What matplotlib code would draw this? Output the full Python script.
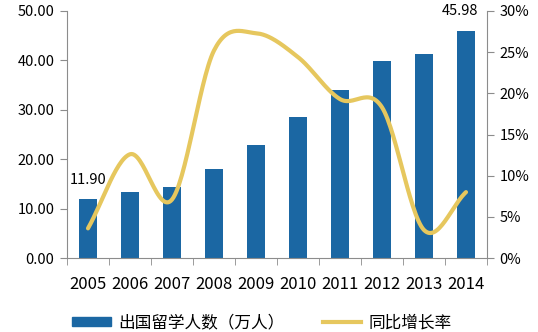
import numpy as np
import matplotlib
matplotlib.use("Agg")
import matplotlib.pyplot as plt
from matplotlib.lines import Line2D
from matplotlib.patches import Patch

plt.rcParams['font.family'] = ['Noto Sans CJK SC', 'DejaVu Sans']

years = ['2005', '2006', '2007', '2008', '2009', '2010', '2011', '2012', '2013', '2014']
students = [11.90, 13.35, 14.4, 17.98, 22.93, 28.47, 33.97, 39.96, 41.39, 45.98]
growth = [3.6, 12.6, 7.1, 25.2, 27.3, 24.4, 19.3, 18.3, 3.4, 8.0]

bar_color = '#1B67A3'
line_color = '#E6C75E'
spine_color = '#8C8C8C'

def smooth(xs, ys, n=30):
    xs = np.asarray(xs, float); ys = np.asarray(ys, float)
    px = np.concatenate([[2*xs[0]-xs[1]], xs, [2*xs[-1]-xs[-2]]])
    py = np.concatenate([[2*ys[0]-ys[1]], ys, [2*ys[-1]-ys[-2]]])
    ox, oy = [], []
    for i in range(1, len(px)-2):
        t = np.linspace(0, 1, n, endpoint=False)
        for P, out in ((px, ox), (py, oy)):
            p0, p1, p2, p3 = P[i-1], P[i], P[i+1], P[i+2]
            out.extend(0.5*((2*p1) + (-p0+p2)*t + (2*p0-5*p1+4*p2-p3)*t**2 + (-p0+3*p1-3*p2+p3)*t**3))
    ox.append(xs[-1]); oy.append(ys[-1])
    return np.array(ox), np.array(oy)

fig = plt.figure(figsize=(5.38, 3.32), dpi=100)
ax = fig.add_axes([67/538, 1-258/332, 420/538, 247/332])
x = np.arange(len(years))
ax.bar(x, students, width=0.42, color=bar_color, zorder=2)
ax.set_xlim(-0.5, len(years)-0.5)
ax.set_ylim(0, 50)
ax.set_yticks(np.arange(0, 51, 10))
ax.set_yticklabels([f'{v:.2f}' for v in np.arange(0, 51, 10)])
ax.set_xticks(x)
ax.set_xticklabels(years)
ax.set_xticks(np.arange(-0.5, len(years)), minor=True)
ax.tick_params(axis='x', which='major', length=0, pad=13, labelsize=12)
ax.tick_params(axis='x', which='minor', length=5, color=spine_color, direction='out')
ax.tick_params(axis='y', length=5, color=spine_color, labelsize=10.5, pad=4)
for s in ['top', 'right']:
    ax.spines[s].set_visible(False)
for s in ['left', 'bottom']:
    ax.spines[s].set_color(spine_color)

ax.text(x[0], 15.8, f'{students[0]:.2f}', ha='center', va='center', fontsize=10.5)
ax.text(x[-1]-0.14, 49.9, f'{students[-1]:.2f}', ha='center', va='center', fontsize=10.5)

ax2 = ax.twinx()
sx, sy = smooth(x, growth)
ax2.plot(sx, sy, color=line_color, lw=3.0, solid_capstyle='round', zorder=3)
ax2.set_ylim(0, 30)
ax2.set_yticks(np.arange(0, 31, 5))
ax2.set_yticklabels([f'{v}%' for v in range(0, 31, 5)])
ax2.tick_params(axis='y', length=5, color=spine_color, labelsize=10.5, pad=4)
for s in ['top', 'left', 'bottom']:
    ax2.spines[s].set_visible(False)
ax2.spines['right'].set_color(spine_color)

handles = [Patch(color=bar_color, label='出国留学人数（万人）'),
           Line2D([0], [0], color=line_color, lw=3.0, label='同比增长率')]
fig.legend(handles=handles, loc='center', bbox_to_anchor=(262/538, 1-323/332), ncol=2,
           frameon=False, fontsize=12, handlelength=2.3, handleheight=0.45,
           handletextpad=0.45, columnspacing=2.3)
fig.savefig('out.png', dpi=100)
